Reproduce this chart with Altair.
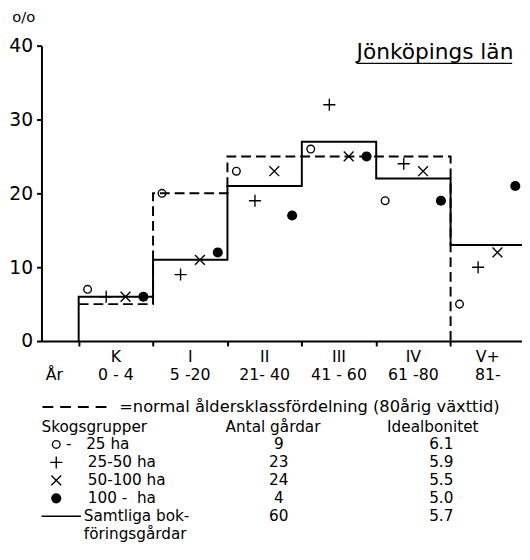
import altair as alt
import pandas as pd

# ---------------- data ----------------
categories = ["K", "I", "II", "III", "IV", "V+"]
age_ranges = ["0 - 4", "5 -20", "21- 40", "41 - 60", "61 -80", "81-"]
normal_pct = [5, 20, 25, 25, 25, 0]          # dashed: normal age-class distribution
total_pct = [6, 11, 21, 27, 22, 13]          # solid: all bookkeeping farms
under25_pct = [7, 20, 23, 26, 19, 5]         # o   - 25 ha
ha25_50_pct = [6, 9, 19, 32, 24, 10]         # +   25-50 ha
ha50_100_pct = [6, 11, 23, 25, 23, 12]       # x   50-100 ha
over100_pct = [6, 12, 17, 25, 19, 21]        # ●   100 - ha
y_ticks = [0, 10, 20, 30, 40]

group_labels = ["-\u00a0\u00a0\u00a025 ha", "25-50 ha", "50-100 ha", "100 -\u00a0 ha"]
farm_counts = ["9", "23", "24", "4", "60"]
ideal_bonitet = ["6.1", "5.9", "5.5", "5.0", "5.7"]

FONT = "DejaVu Sans"
INK = "black"
LFS = 15.5  # legend font size

# ---------------- derived tables ----------------
n = len(categories)
starts = [i + 0.5 for i in range(n)]           # category boundaries on the x scale
cat_df = pd.DataFrame({"cat": categories, "age": age_ranges, "xc": [i + 1 for i in range(n)]})

solid_df = pd.DataFrame({"x": [starts[0]] + starts + [n + 0.5],
                         "y": [0] + total_pct + [total_pct[-1]]})
dashed_df = pd.DataFrame({"x": starts, "y": normal_pct})

groups = [
    ("u25", under25_pct, 0.12, dict(shape="circle", filled=False, size=60, strokeWidth=1.4)),
    ("25_50", ha25_50_pct, 0.37, dict(shape="M-1,0H1M0,-1V1", filled=False, size=150, strokeWidth=1.4)),
    ("50_100", ha50_100_pct, 0.63, dict(shape="M-1,-1L1,1M-1,1L1,-1", filled=False, size=100, strokeWidth=1.4)),
    ("o100", over100_pct, 0.87, dict(shape="circle", filled=True, size=105, strokeWidth=0)),
]

xscale = alt.Scale(domain=[0, 6.46], nice=False, zero=False)
yscale = alt.Scale(domain=[0, 40], nice=False)

layers = []

# solid step line also carries the axes
axis_layer = alt.Chart(solid_df).mark_line(strokeWidth=2, color=INK, interpolate="step-after", clip=True).encode(
    x=alt.X("x:Q", scale=xscale,
            axis=alt.Axis(values=starts, labels=False, title=None, tickSize=5, tickWidth=2,
                          tickColor=INK, domainColor=INK, domainWidth=2, grid=False)),
    y=alt.Y("y:Q", scale=yscale,
            axis=alt.Axis(values=y_ticks, title=None, tickSize=5, tickWidth=2, tickColor=INK,
                          domainColor=INK, domainWidth=2, grid=False, labelFontSize=19,
                          labelFont=FONT, labelColor=INK, labelPadding=4)),
)
layers.append(axis_layer)

dashed_layer = alt.Chart(dashed_df).mark_line(strokeWidth=2, color=INK, interpolate="step-after",
                                                strokeDash=[10, 5], clip=True).encode(
    x=alt.X("x:Q", scale=xscale),
    y=alt.Y("y:Q", scale=yscale, axis=None),
)
layers.append(dashed_layer)

# data points per forest group
for key, vals, off, style in groups:
    gdf = pd.DataFrame({"x": [s + off for s in starts], "y": vals})
    layers.append(
        alt.Chart(gdf).mark_point(color=INK, opacity=1, **style).encode(
            x=alt.X("x:Q", scale=xscale),
            y=alt.Y("y:Q", scale=yscale, axis=None),
        )
    )

# category labels below the x axis
layers.append(alt.Chart(cat_df).mark_text(font=FONT, fontSize=16, color=INK).encode(
    x=alt.X("xc:Q", scale=xscale), y=alt.value(316), text="cat:N"))
layers.append(alt.Chart(cat_df).mark_text(font=FONT, fontSize=16, color=INK).encode(
    x=alt.X("xc:Q", scale=xscale), y=alt.value(335), text="age:N"))
layers.append(alt.Chart(pd.DataFrame({"t": ["År"]})).mark_text(font=FONT, fontSize=16, color=INK).encode(
    x=alt.value(13), y=alt.value(335), text="t:N"))

# unit and title
layers.append(alt.Chart(pd.DataFrame({"t": ["o/o"]})).mark_text(font=FONT, fontSize=15, color=INK).encode(
    x=alt.value(-18), y=alt.value(-29), text="t:N"))
layers.append(alt.Chart(pd.DataFrame({"t": ["Jönköpings län"]})).mark_text(
    font=FONT, fontSize=22, color=INK, align="left", baseline="alphabetic").encode(
    x=alt.value(320), y=alt.value(14), text="t:N"))
layers.append(alt.Chart(pd.DataFrame({"t": [1]})).mark_rule(color=INK, strokeWidth=1.2).encode(
    x=alt.value(320), x2=alt.value(478), y=alt.value(18)))

# ---------------- legend / table below ----------------
layers.append(alt.Chart(pd.DataFrame({"t": [1]})).mark_rule(color=INK, strokeWidth=2, strokeDash=[11, 7]).encode(
    x=alt.value(1), x2=alt.value(68), y=alt.value(367)))
layers.append(alt.Chart(pd.DataFrame({"t": ["=normal åldersklassfördelning (80årig växttid)"]})).mark_text(
    font=FONT, fontSize=LFS + 1, color=INK, align="left").encode(x=alt.value(79), y=alt.value(367), text="t:N"))

header = pd.DataFrame({"t": ["Skogsgrupper", "Antal gårdar", "Idealbonitet"], "xp": [0, 187, 351]})
for _, r in header.iterrows():
    layers.append(alt.Chart(pd.DataFrame({"t": [r["t"]]})).mark_text(
        font=FONT, fontSize=LFS, color=INK, align="left").encode(
        x=alt.value(float(r["xp"])), y=alt.value(387), text="t:N"))

row_scale = alt.Scale(type="point", domain=[0, 1, 2, 3, 4], range=[405, 478], padding=0)
table_df = pd.DataFrame({"row": list(range(5)), "farms": farm_counts, "bon": ideal_bonitet})
group_df = pd.DataFrame({"row": list(range(4)), "label": group_labels})

layers.append(alt.Chart(table_df).mark_text(font=FONT, fontSize=LFS, color=INK, align="center").encode(
    x=alt.value(241), y=alt.Y("row:O", scale=row_scale, axis=None), text="farms:N"))
layers.append(alt.Chart(table_df).mark_text(font=FONT, fontSize=LFS, color=INK, align="center").encode(
    x=alt.value(406), y=alt.Y("row:O", scale=row_scale, axis=None), text="bon:N"))
layers.append(alt.Chart(group_df).transform_filter("datum.row == 0").mark_text(
    font=FONT, fontSize=LFS, color=INK, align="left").encode(
    x=alt.value(25), y=alt.Y("row:O", scale=row_scale, axis=None), text="label:N"))
layers.append(alt.Chart(group_df).transform_filter("datum.row > 0").mark_text(
    font=FONT, fontSize=LFS, color=INK, align="left").encode(
    x=alt.value(47), y=alt.Y("row:O", scale=row_scale, axis=None), text="label:N"))

for i, (key, vals, off, style) in enumerate(groups):
    layers.append(alt.Chart(pd.DataFrame({"row": [i]})).mark_point(color=INK, opacity=1, **style).encode(
        x=alt.value(15), y=alt.Y("row:O", scale=row_scale, axis=None)))

layers.append(alt.Chart(pd.DataFrame({"t": [1]})).mark_rule(color=INK, strokeWidth=1.5).encode(
    x=alt.value(0), x2=alt.value(40), y=alt.value(478)))
layers.append(alt.Chart(pd.DataFrame({"t": ["Samtliga bok-", "föringsgårdar"], "yy": [478, 496]})).mark_text(
    font=FONT, fontSize=LFS, color=INK, align="left").encode(
    x=alt.value(43), y=alt.Y("yy:Q", scale=alt.Scale(domain=[478, 496], range=[478, 496]), axis=None),
    text="t:N"))

chart = alt.layer(*layers).resolve_scale(y="independent").properties(
    width=488, height=300,
    autosize=alt.AutoSizeParams(type="none"),
    padding={"left": 34, "top": 34, "right": 0, "bottom": 210},
    background="white",
).configure_view(stroke=None)

chart.save("out.html", embed_options={"renderer": "svg", "actions": False})
